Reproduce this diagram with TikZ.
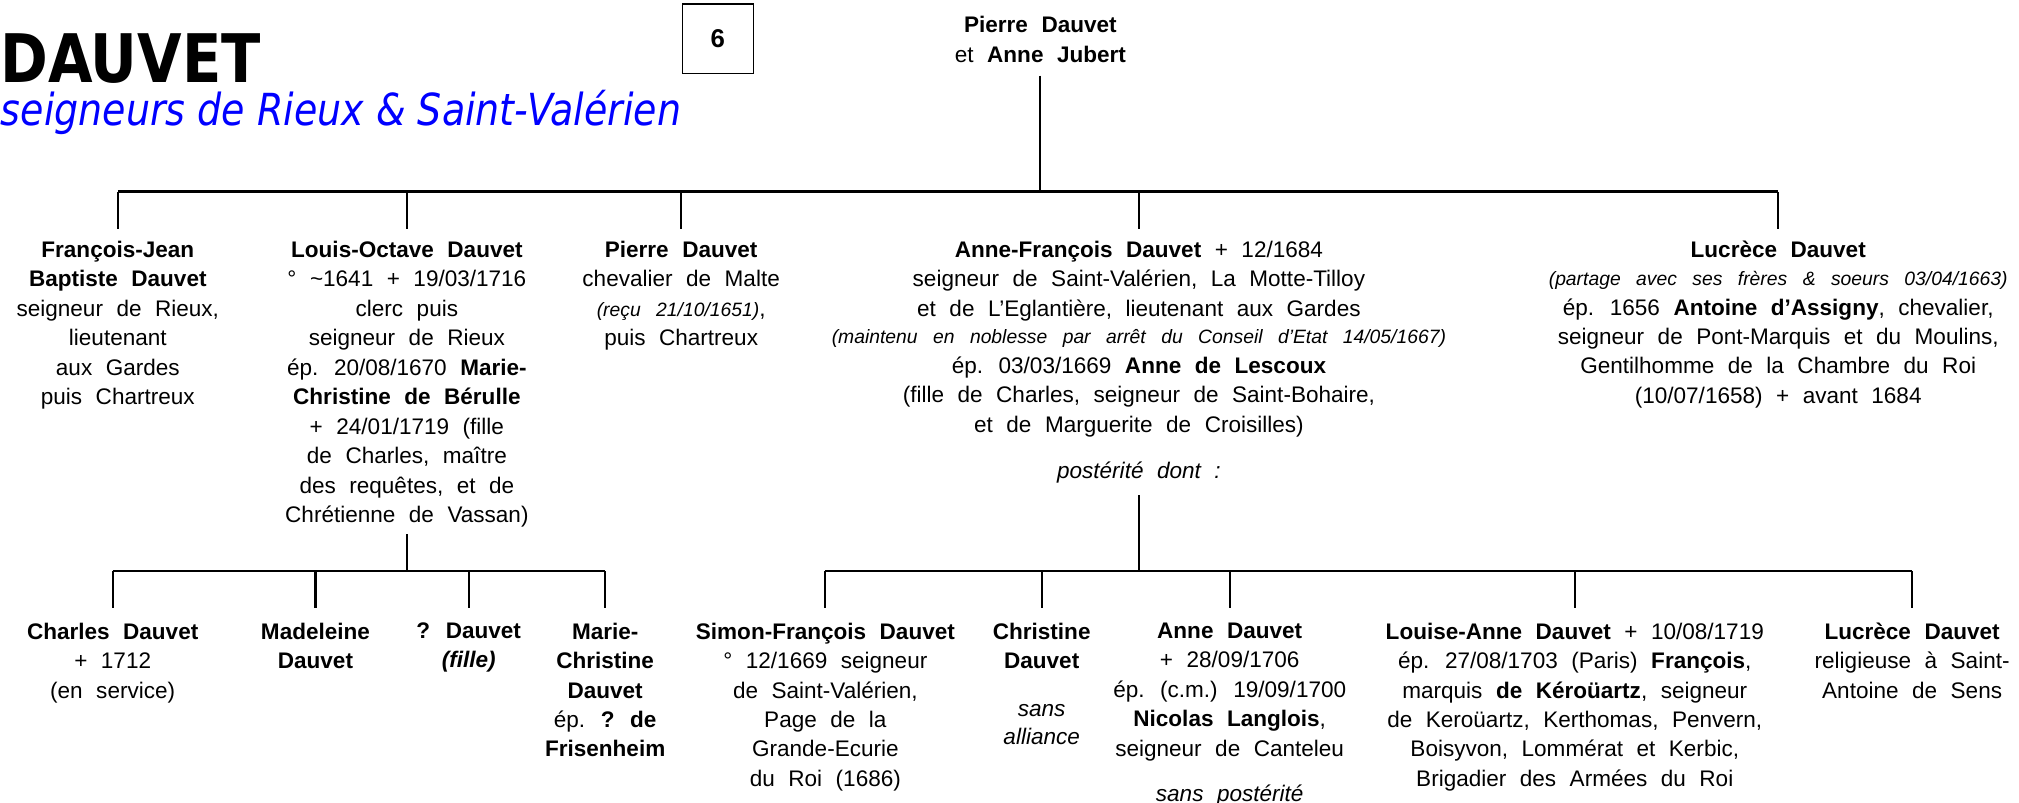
\documentclass[tikz,border=0pt]{standalone}
\usepackage{fontspec}
\setmainfont{Liberation Sans}
\newfontfamily\titlefont[FakeStretch=0.86]{DejaVu Sans}
\usepackage{tikz}
\usetikzlibrary{calc}
\definecolor{titleblue}{RGB}{0,0,255}
\newcommand{\personfont}{\fontsize{17.5}{22.9}\selectfont\spaceskip=10.5pt\relax}
\newcommand{\noteit}[1]{{\fontsize{15}{18}\selectfont\itshape\spaceskip=12pt\relax #1}}
\tikzset{
  person/.style={align=center, anchor=north, inner xsep=0pt, inner ysep=9.3pt,
    font=\personfont},
  child/.style={person, inner ysep=11.4pt},
  numbox/.style={draw, line width=1pt, minimum width=55pt, minimum height=54pt,
    inner sep=0pt, font=\bfseries\fontsize{20}{20}\selectfont},
  link/.style={line width=1.6pt},
  bar/.style={line width=2.2pt}
}

\begin{document}
\begin{tikzpicture}[x=1pt, y=-1pt]
  \useasboundingbox (0,0) rectangle (1568,623);

  \node[anchor=base west, inner sep=0pt, font=\titlefont\bfseries\fontsize{52}{54}\selectfont] (nom) at (0,64) {DAUVET};
  \node[anchor=base west, inner sep=0pt, text=titleblue, font=\titlefont\itshape\fontsize{34.3}{36}\selectfont] (branche) at (0.5,97.5) {seigneurs de Rieux \& Saint-Valérien};
  \node[numbox] (planche) at (557.5,30) {6};

  \node[person, inner ysep=10pt] (parents) at (808,2.5) {\textbf{Pierre Dauvet}\\et \textbf{Anne Jubert}};

  \node[person] (fjb) at (91.5,177.5) {\textbf{François-Jean}\\\textbf{Baptiste Dauvet}\\seigneur de Rieux,\\lieutenant\\aux Gardes\\puis Chartreux};
  \node[person] (louis) at (316,177.5) {\textbf{Louis-Octave Dauvet}\\° \textasciitilde1641 + 19/03/1716\\clerc puis\\seigneur de Rieux\\ép. 20/08/1670 \textbf{Marie-}\\\textbf{Christine de Bérulle}\\+ 24/01/1719 (fille\\de Charles, maître\\des requêtes, et de\\Chrétienne de Vassan)};
  \node[person] (pierre) at (529,177.5) {\textbf{Pierre Dauvet}\\chevalier de Malte\\\noteit{(reçu 21/10/1651)},\\puis Chartreux};
  \node[person] (annef) at (884.5,177.5) {\textbf{Anne-François Dauvet} + 12/1684\\seigneur de Saint-Valérien, La Motte-Tilloy\\et de L’Eglantière, lieutenant aux Gardes\\[-1.5pt]\noteit{(maintenu en noblesse par arrêt du Conseil d’Etat 14/05/1667)}\\ép. 03/03/1669 \textbf{Anne de Lescoux}\\(fille de Charles, seigneur de Saint-Bohaire,\\et de Marguerite de Croisilles)\\[13pt]\textit{postérité dont :}};
  \node[person] (luc) at (1381,177.5) {\textbf{Lucrèce Dauvet}\\[-1pt]\noteit{(partage avec ses frères \& soeurs 03/04/1663)}\\ép. 1656 \textbf{Antoine d’Assigny}, chevalier,\\seigneur de Pont-Marquis et du Moulins,\\Gentilhomme de la Chambre du Roi\\(10/07/1658) + avant 1684};

  \node[child] (charles) at (87.5,472) {\textbf{Charles Dauvet}\\+ 1712\\(en service)};
  \node[child] (madeleine) at (245,472) {\textbf{Madeleine}\\\textbf{Dauvet}};
  \node[child] (fille) at (364,472) {\textbf{? Dauvet}\\\textbf{\textit{(fille)}}};
  \node[child] (mariech) at (470,472) {\textbf{Marie-}\\\textbf{Christine}\\\textbf{Dauvet}\\ép. \textbf{? de}\\\textbf{Frisenheim}};

  \node[child] (simon) at (641,472) {\textbf{Simon-François Dauvet}\\° 12/1669 seigneur\\de Saint-Valérien,\\Page de la\\Grande-Ecurie\\du Roi (1686)};
  \node[child] (christine) at (809,472) {\textbf{Christine}\\\textbf{Dauvet}\\[14pt]\textit{sans}\\[-1pt]\textit{alliance}};
  \node[child] (anne) at (955,472) {\textbf{Anne Dauvet}\\+ 28/09/1706\\ép. (c.m.) 19/09/1700\\\textbf{Nicolas Langlois},\\seigneur de Canteleu\\[12pt]\textit{sans postérité}};
  \node[child] (louise) at (1223,472) {\textbf{Louise-Anne Dauvet} + 10/08/1719\\ép. 27/08/1703 (Paris) \textbf{François},\\marquis \textbf{de Kéroüartz}, seigneur\\de Keroüartz, Kerthomas, Penvern,\\Boisyvon, Lommérat et Kerbic,\\Brigadier des Armées du Roi};
  \node[child] (religieuse) at (1485,472) {\textbf{Lucrèce Dauvet}\\religieuse à Saint-\\Antoine de Sens};

  \coordinate (topbar) at (808,149);
  \coordinate (lbar) at (316,443.5);
  \coordinate (rbar) at (884.5,443.5);

  \draw[link] (parents.south) -- (topbar);
  \draw[bar] (fjb.north |- topbar) -- (luc.north |- topbar);
  \foreach \n in {fjb,louis,pierre,annef,luc}
    \draw[link] (\n.north) -- (\n.north |- topbar);

  \draw[link, shorten <=-4pt] (louis.south) -- (louis.south |- lbar);
  \draw[bar] (charles.north |- lbar) -- (mariech.north |- lbar);
  \foreach \n in {charles,madeleine,fille,mariech}
    \draw[link] (\n.north) -- (\n.north |- lbar);

  \draw[link] (annef.south) -- (annef.south |- rbar);
  \draw[bar] (simon.north |- rbar) -- (religieuse.north |- rbar);
  \foreach \n in {simon,christine,anne,louise,religieuse}
    \draw[link] (\n.north) -- (\n.north |- rbar);
\end{tikzpicture}
\end{document}
